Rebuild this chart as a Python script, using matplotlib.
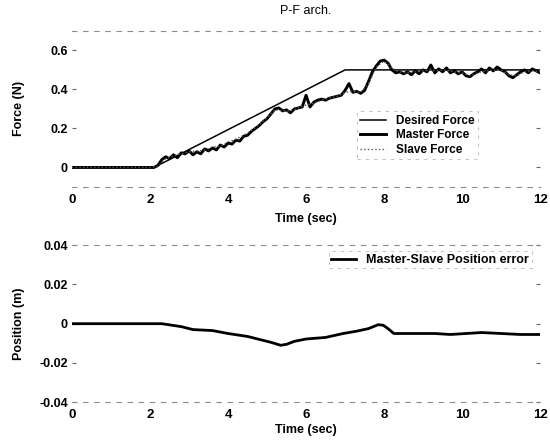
import numpy as np
import matplotlib
matplotlib.use("Agg")
import matplotlib.pyplot as plt

plt.rcParams["font.family"] = ["Liberation Sans", "DejaVu Sans"]

# force data, 0.1 s sampling for master, 0.2 s for slave
t_master = np.round(np.arange(0, 12.01, 0.1), 2)
master_force = [0.0] * 22 + [
    0.01, 0.04, 0.055, 0.045, 0.065, 0.05, 0.075, 0.07,
    0.085, 0.065, 0.08, 0.07, 0.095, 0.085, 0.1, 0.09, 0.115, 0.105,
    0.125, 0.12, 0.14, 0.135, 0.16, 0.165, 0.185, 0.2, 0.215, 0.235,
    0.25, 0.275, 0.3, 0.305, 0.29, 0.295, 0.28, 0.3, 0.305, 0.31,
    0.37, 0.31, 0.335, 0.345, 0.35, 0.345, 0.355, 0.36, 0.365, 0.37,
    0.395, 0.43, 0.385, 0.39, 0.38, 0.395, 0.44, 0.49, 0.52, 0.545,
    0.55, 0.535, 0.5, 0.485, 0.49, 0.48, 0.49, 0.475, 0.495, 0.48,
    0.5, 0.49, 0.525, 0.485, 0.505, 0.49, 0.51, 0.485, 0.495, 0.48,
    0.49, 0.47, 0.465, 0.48, 0.49, 0.505, 0.485, 0.51, 0.495, 0.515,
    0.5, 0.49, 0.47, 0.46, 0.475, 0.49, 0.5, 0.485, 0.505, 0.495,
    0.485,
]

t_slave = np.round(np.arange(0, 12.01, 0.2), 2)
slave_force = [0.0] * 11 + [
    0.005, 0.045, 0.06, 0.07, 0.08, 0.085, 0.09, 0.105, 0.11,
    0.13, 0.145, 0.165, 0.19, 0.22, 0.255, 0.295, 0.29, 0.29, 0.305,
    0.32, 0.33, 0.345, 0.355, 0.365, 0.385, 0.39, 0.385, 0.43, 0.515,
    0.545, 0.51, 0.49, 0.485, 0.49, 0.495, 0.5, 0.495, 0.5, 0.49,
    0.485, 0.47, 0.485, 0.495, 0.5, 0.5, 0.475, 0.47, 0.49, 0.495,
    0.49,
]

t_desired = [0, 2.1, 7.0, 12]
desired_force = [0, 0, 0.5, 0.5]

t_err = [0, 2.3, 2.8, 3.1, 3.6, 4.0, 4.5, 4.8, 5.1, 5.35, 5.5, 5.7,
         6.0, 6.5, 6.95, 7.3, 7.6, 7.85, 7.98, 8.1, 8.25, 8.6, 9.3,
         9.7, 10.5, 11.0, 11.5, 12.0]
pos_err = [0, 0, -0.0015, -0.003, -0.0035, -0.005, -0.0065, -0.008,
           -0.0095, -0.011, -0.0105, -0.009, -0.0078, -0.007, -0.005,
           -0.0038, -0.0025, -0.0005, -0.0008, -0.0025, -0.005, -0.005,
           -0.005, -0.0055, -0.0045, -0.005, -0.0055, -0.0055]

fig = plt.figure(figsize=(5.5, 4.41), dpi=100)
ax1 = fig.add_axes([0.131, 0.576, 0.851, 0.354])
ax2 = fig.add_axes([0.131, 0.088, 0.851, 0.356])


def style_axes(ax):
    for side in ["left", "right"]:
        ax.spines[side].set_visible(False)
    for side in ["top", "bottom"]:
        ax.spines[side].set_color("0.55")
        ax.spines[side].set_linewidth(0.8)
        ax.spines[side].set_linestyle((0, (4, 6)))
    ax.tick_params(axis="y", which="both", left=True, right=True,
                   direction="in", length=3, width=0.8, color="0.4",
                   labelsize=9, pad=3)
    ax.tick_params(axis="x", length=0, labelsize=9.5, pad=5)
    for lab in ax.get_xticklabels() + ax.get_yticklabels():
        lab.set_fontweight("bold")
    ax.set_xlim(0, 12)
    ax.set_xticks([0, 2, 4, 6, 8, 10, 12])


ax1.plot(t_desired, desired_force, color="black", lw=1.1, label="Desired Force")
ax1.plot(t_master, master_force, color="black", lw=2.1, label="Master Force")
ax1.plot(t_slave, slave_force, color="0.35", lw=1.0, ls=":", label="Slave Force")
ax1.set_ylim(-0.1, 0.7)
ax1.set_yticks([0, 0.2, 0.4, 0.6])
ax1.set_yticklabels(["0", "0.2", "0.4", "0.6"])
style_axes(ax1)
ax1.set_title("P-F arch.", fontsize=9, pad=12)
ax1.set_xlabel("Time (sec)", fontsize=9, fontweight="bold", labelpad=5)
ax1.set_ylabel("Force (N)", fontsize=9, fontweight="bold", labelpad=18)
leg1 = ax1.legend(loc="lower right", bbox_to_anchor=(0.88, 0.14),
                  prop={"size": 8.5, "weight": "bold"}, frameon=True,
                  fancybox=False, handlelength=2.2, borderpad=0.3,
                  labelspacing=0.2)
leg1.get_frame().set_edgecolor("0.65")
leg1.get_frame().set_linestyle((0, (4, 6)))
leg1.get_frame().set_linewidth(0.6)

ax2.plot(t_err, pos_err, color="black", lw=2.0, label="Master-Slave Position error")
ax2.set_ylim(-0.04, 0.04)
ax2.set_yticks([-0.04, -0.02, 0, 0.02, 0.04])
ax2.set_yticklabels(["-0.04", "-0.02", "0", "0.02", "0.04"])
style_axes(ax2)
ax2.set_xlabel("Time (sec)", fontsize=9, fontweight="bold", labelpad=2)
ax2.set_ylabel("Position (m)", fontsize=9, fontweight="bold", labelpad=10)
leg2 = ax2.legend(loc="upper right", bbox_to_anchor=(0.995, 1.0),
                  prop={"size": 9, "weight": "bold"}, frameon=True,
                  fancybox=False, handlelength=2.0, borderpad=0.2)
leg2.get_frame().set_edgecolor("0.65")
leg2.get_frame().set_linestyle((0, (4, 6)))
leg2.get_frame().set_linewidth(0.6)

fig.savefig("out.png", dpi=100)
